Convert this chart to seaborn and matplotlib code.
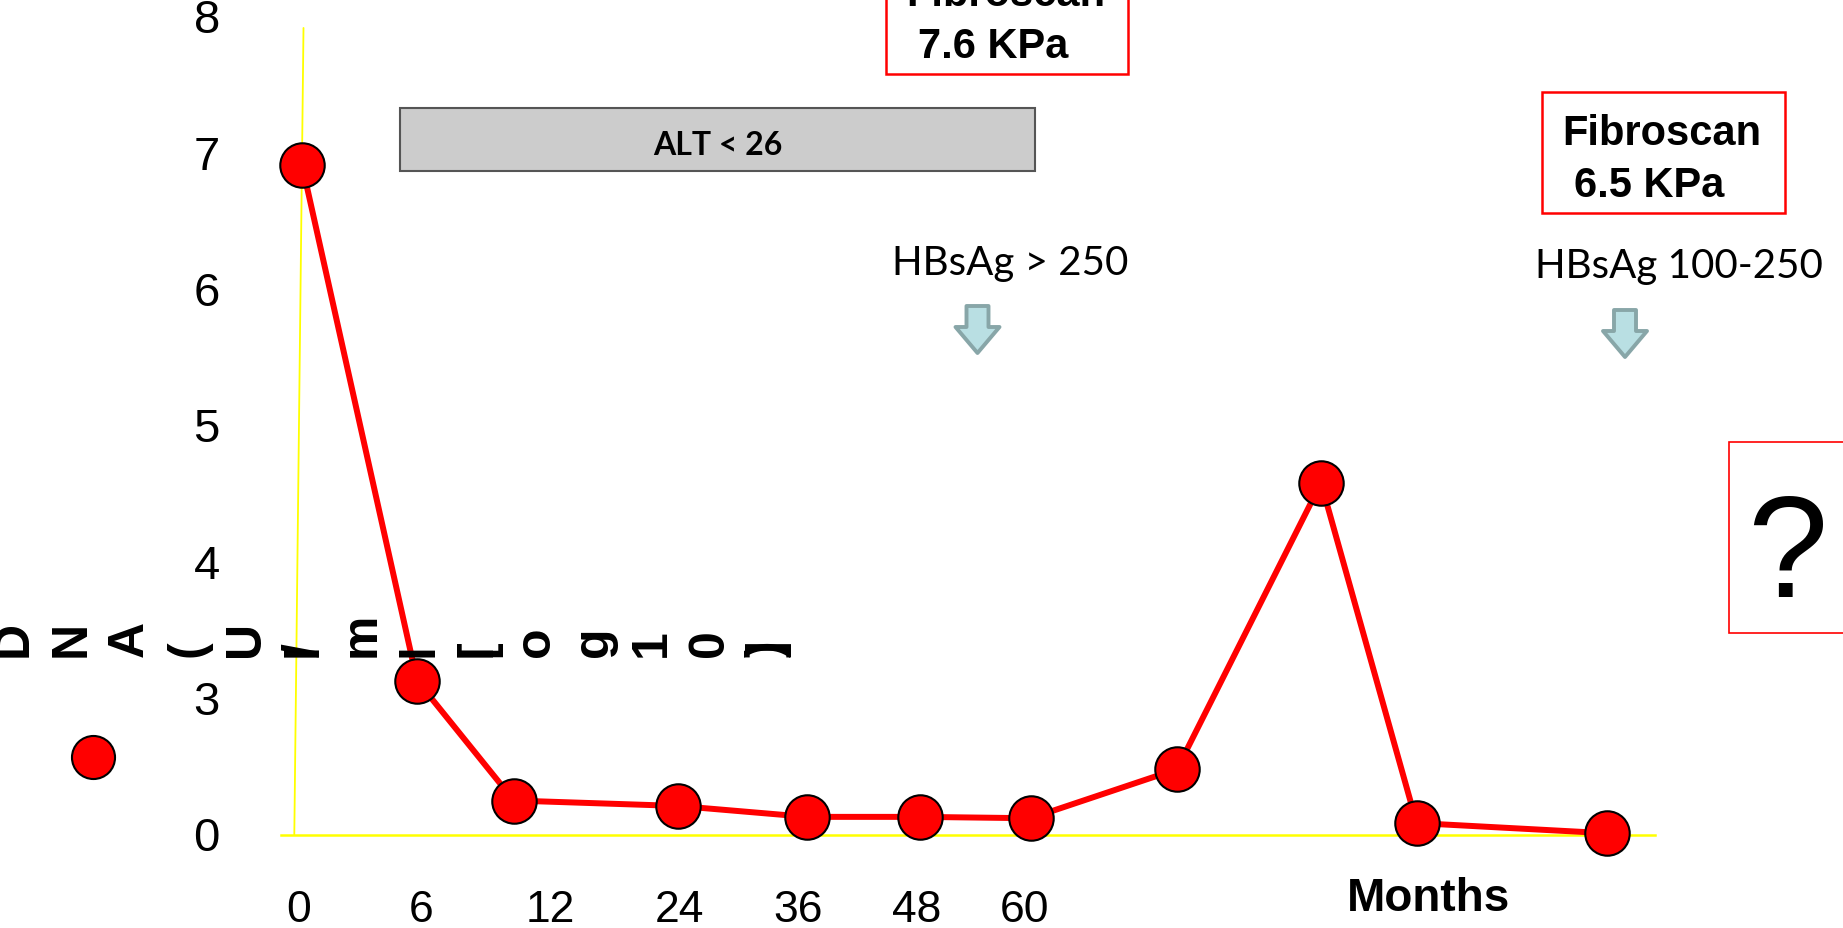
import matplotlib
matplotlib.use("Agg")
import matplotlib.pyplot as plt
import matplotlib.patches as mpatches
import seaborn as sns
import pandas as pd

# data (x in visit slots, y in axis units; the "0" label sits at 2)
visit_pos = [0.03, 0.98, 1.78, 3.14, 4.20, 5.14, 6.05, 7.26, 8.45, 9.24, 10.81]
dna_log = [6.90, 3.12, 2.24, 2.20, 2.12, 2.12, 2.11, 2.47, 4.57, 2.075, 2.00]

month_pos = [0, 1.01, 2.08, 3.15, 4.13, 5.11, 6.00]
month_labels = ["0", "6", "12", "24", "36", "48", "60"]

ytick_pos = [8, 7, 6, 5, 4, 3, 2]
ytick_labels = ["8", "7", "6", "5", "4", "3", "0"]

ylabel_glyphs = ["D", "N", "A", "(", "U", "I/", "m", "l", "[l", "o", "g", "1", "0", "])"]

W, H = 1843, 929
DPI = 100

sns.set_theme(style="white")
plt.rcParams["font.family"] = ["Liberation Sans", "DejaVu Sans"]
plt.rcParams["text.color"] = "black"
plt.rcParams["xtick.color"] = "black"
plt.rcParams["ytick.color"] = "black"

fig = plt.figure(figsize=(W / DPI, H / DPI), dpi=DPI)

# main axes: x axis line from px 281 to 1655 at y=836
left, right, bottom = 281, 1655, 836
ax = fig.add_axes([left / W, (H - bottom) / H, (right - left) / W, bottom / H])
ax.set_xlim(-0.1446, 11.21)
ax.set_ylim(1.987, 8.120)


def to_data(px, py):
    return (px - 298.5) / 121.0, 7 - (py - 152.7) / 136.3


# slightly tilted y axis line
(x0, y0), (x1, y1) = to_data(303.5, 29), to_data(294.3, 836)
ax.plot([x0, x1], [y0, y1], color="#ffff00", lw=1.3, zorder=1, clip_on=False)

df = pd.DataFrame({"visit": visit_pos, "dna": dna_log})
sns.lineplot(data=df, x="visit", y="dna", ax=ax, color="#ff0000", linewidth=4.3,
             marker="o", markersize=32, markerfacecolor="#ff0000",
             markeredgecolor="black", markeredgewidth=1.5, clip_on=False, zorder=3)

for s in ["top", "right", "left"]:
    ax.spines[s].set_visible(False)
ax.spines["bottom"].set_color("#ffff00")
ax.spines["bottom"].set_linewidth(1.8)
ax.set_facecolor("none")

ax.set_xticks(month_pos)
ax.set_xticklabels(month_labels)
ax.set_yticks(ytick_pos)
ax.set_yticklabels(ytick_labels)
ax.tick_params(axis="x", length=0, pad=39, labelsize=32, labelcolor="black")
ax.tick_params(axis="y", direction="in", length=8.6, width=1.5, color="#ffff00",
               pad=44, labelsize=34, labelcolor="black")
ax.set_xlabel("")
ax.set_ylabel("")
ax.grid(False)

# overlay in pixel units for the slide annotations
ov = fig.add_axes([0, 0, 1, 1])
ov.set_xlim(0, W)
ov.set_ylim(H, 0)
ov.axis("off")

# ALT bar
ov.add_patch(mpatches.Rectangle((400, 109), 635, 63, facecolor="#cccccc",
                                edgecolor="#555555", lw=1.5))
ov.text(717.5, 155, "ALT < 26", fontsize=23, fontweight="bold", family=["Lato", "DejaVu Sans"],
        ha="center", va="baseline", color="black")

# Fibroscan boxes
ov.add_patch(mpatches.Rectangle((886, -50), 242, 125, facecolor="white",
                                edgecolor="#ff0000", lw=1.8, clip_on=False))
ov.text(906, 6, "Fibroscan", fontsize=30, fontweight="bold", ha="left", va="baseline")
ov.text(918, 58, "7.6 KPa", fontsize=30, fontweight="bold", ha="left", va="baseline")

ov.add_patch(mpatches.Rectangle((1542, 93), 243, 121, facecolor="white",
                                edgecolor="#ff0000", lw=1.8))
ov.text(1562, 145, "Fibroscan", fontsize=30, fontweight="bold", ha="left", va="baseline")
ov.text(1574, 197, "6.5 KPa", fontsize=30, fontweight="bold", ha="left", va="baseline")

# HBsAg notes and arrows
ov.text(892, 275, "HBsAg > 250", fontsize=29, family=["Lato", "DejaVu Sans"],
        ha="left", va="baseline", color="black")
ov.text(1535, 278, "HBsAg 100-250", fontsize=29, family=["Lato", "DejaVu Sans"],
        ha="left", va="baseline", color="black")


def down_arrow(cx, top):
    pts = [(cx - 11, top), (cx + 11, top), (cx + 11, top + 21), (cx + 22, top + 21),
           (cx, top + 47), (cx - 22, top + 21), (cx - 11, top + 21)]
    ov.add_patch(mpatches.Polygon(pts, closed=True, facecolor="#b9dfe3",
                                  edgecolor="#88a6a8", lw=2.8, joinstyle="round"))


down_arrow(977.5, 307)
down_arrow(1625, 311)

# question mark box
ov.add_patch(mpatches.Rectangle((1729, 443), 200, 191, facecolor="white",
                                edgecolor="#ff0000", lw=1.2, clip_on=False))
ov.text(1787, 597, "?", fontsize=104, ha="center", va="baseline")

ov.text(1429, 911, "Months", fontsize=33, fontweight="bold", ha="center", va="baseline")

# vertical-glyph y label as it came out of the slide
for i, g in enumerate(ylabel_glyphs):
    for ch in g:
        ov.text(14 + i * 58, 657, ch, fontsize=36, fontweight="bold", rotation=90,
                family=["Liberation Sans Narrow", "Liberation Sans", "DejaVu Sans"],
                ha="center", va="bottom")

# legend marker
ov.plot([93], [758], marker="o", markersize=31, color="#ff0000",
        markeredgecolor="black", markeredgewidth=1.5, linestyle="none")

fig.savefig("out.png", dpi=DPI, facecolor="white")
